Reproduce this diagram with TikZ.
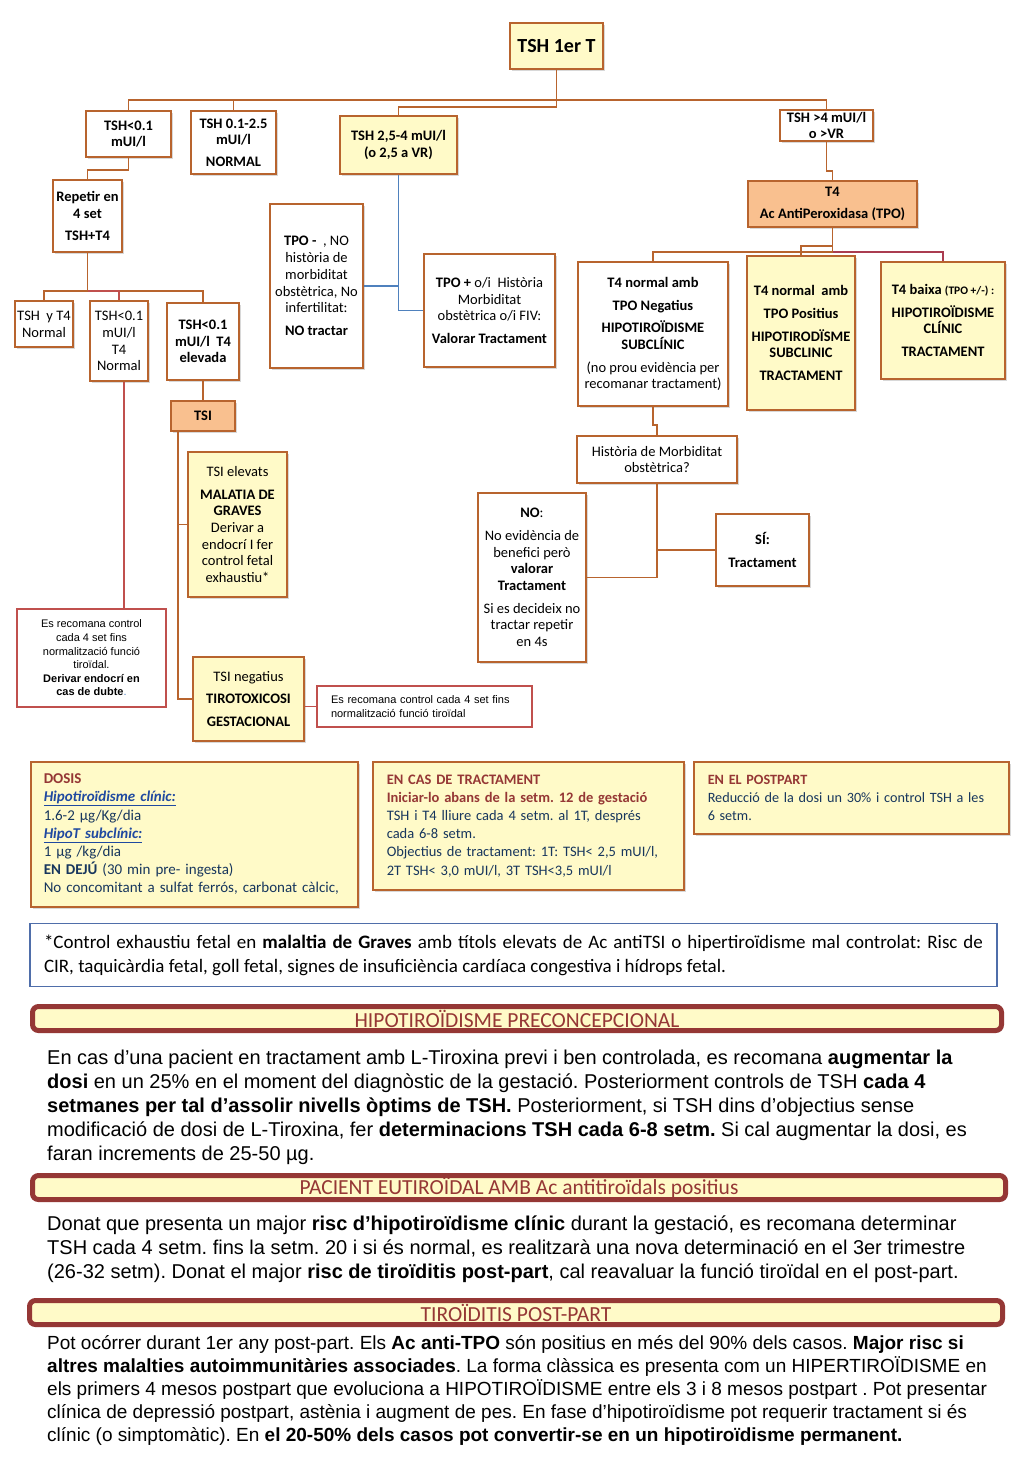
\documentclass[tikz,border=0pt]{standalone}
\usepackage{fontspec}
\setmainfont{Carlito}
\newfontfamily\arialf{Liberation Sans}
\usetikzlibrary{shadows}
\definecolor{bord}{RGB}{184,100,46}
\definecolor{yel}{RGB}{255,250,200}
\definecolor{ora}{RGB}{249,192,143}
\definecolor{redb}{RGB}{192,80,77}
\definecolor{blu}{RGB}{79,129,189}
\definecolor{blub}{RGB}{79,110,170}
\definecolor{dred}{RGB}{149,55,53}
\definecolor{navy}{RGB}{23,54,93}
\definecolor{lnk}{RGB}{31,73,160}
\definecolor{maroon}{RGB}{170,60,80}
\newcommand\bxat[7]{\node[#1,minimum width={#5-#3},minimum height={#6-#4}] (#2) at ({(#3+#5)/2},{(#4+#6)/2}) {#7};}
\newcommand\pfont{\arialf\fontsize{20}{24}\selectfont}
\begin{document}
\frenchspacing
\begin{tikzpicture}[x=1pt,y=-1pt,
  shad/.style={drop shadow={shadow xshift=2pt,shadow yshift=-2pt,opacity=0.3}},
  bx/.style={draw=bord,line width=1.5pt,fill=white,inner sep=1pt,align=center,font=\fontsize{14.5}{16.7}\selectfont,shad},
  bbx/.style={bx,font=\fontsize{14.5}{16.7}\selectfont\bfseries},
  ybx/.style={bx,fill=yel},
  obx/.style={bx,fill=ora},
  rbx/.style={draw=redb,line width=1.2pt,fill=white,inner sep=1pt,align=center,font=\arialf\fontsize{11}{13.6}\selectfont},
  conn/.style={draw=bord,line width=1.6pt},
  rconn/.style={draw=redb,line width=1.4pt},
  mconn/.style={draw=maroon,line width=1.6pt},
  bconn/.style={draw=blu,line width=1.6pt},
  info/.style={draw=bord,line width=1.5pt,fill=yel,anchor=north west,align=left,font=\fontsize{14.5}{18.2}\selectfont,text=navy,inner ysep=6pt,shad},
  hdr/.style={draw=dred,line width=5pt,rounded corners=6pt,fill=yel,text=dred,font=\fontsize{21.5}{22}\selectfont,inner sep=0pt,shad},
  para/.style={anchor=north west,align=left,inner sep=0pt,font=\pfont}
]
\fill[white] (0,0) rectangle (1024,1479);
\useasboundingbox (0,0) rectangle (1024,1479);

% ---------- top flowchart ----------
\bxat{ybx,font=\fontsize{20}{22}\selectfont\bfseries}{t1}{510}{23}{603}{69}{TSH 1er T}
\bxat{bbx}{a1}{86}{111}{171}{157}{TSH<0.1\\mUI/l}
\bxat{bbx}{a2}{191}{111}{276}{174}{TSH 0.1-2.5\\mUI/l\\[5pt]NORMAL}
\bxat{bbx,fill=yel}{a3}{340}{116}{457}{174}{TSH 2,5-4 mUI/l\\(o 2,5 a VR)}
\bxat{bbx,font=\fontsize{14.5}{15.5}\selectfont\bfseries}{a4}{780}{110}{873}{141}{TSH >4 mUI/l\\o >VR}
\bxat{bbx,fill=ora}{t4}{748}{181}{917}{227}{T4\\[6pt]Ac AntiPeroxidasa (TPO)}
\bxat{bbx}{r1}{53}{180}{122}{252}{Repetir en\\4 set\\[6pt]TSH+T4}
\bxat{bx}{c1}{15}{301}{73}{347}{TSH\ \ y T4\\Normal}
\bxat{bx}{c2}{90}{301}{148}{381}{TSH<0.1\\mUI/l\\T4\\Normal}
\bxat{bbx}{c3}{167}{303}{239}{380}{TSH<0.1\\mUI/l\ \ T4\\elevada}
\bxat{bbx,fill=ora}{tsi}{171}{401}{235}{431}{TSI}
\bxat{ybx}{g1}{188}{452}{287}{597}{TSI elevats\\[6pt]\textbf{MALATIA DE}\\\textbf{GRAVES}\\Derivar a\\endocrí I fer\\control fetal\\exhaustiu*}
\bxat{ybx}{g2}{193}{657}{304}{741}{TSI negatius\\[6pt]\textbf{TIROTOXICOSI}\\[6pt]\textbf{GESTACIONAL}}
\bxat{rbx}{e1}{17}{609}{166}{707}{Es recomana control\\cada 4 set fins\\normalització funció\\tiroïdal.\\\textbf{Derivar endocrí en}\\\textbf{cas de dubte}\textcolor{blu}{.}}
\node[rbx,align=left,text width=187pt,inner xsep=14pt,minimum height=41pt] (e2) at (424.5,706.5) {Es recomana control cada 4 set fins\\normalització funció tiroïdal};
\bxat{bx}{p1}{270}{204}{363}{368}{\textbf{TPO -}\ \ , NO\\història de\\morbiditat\\obstètrica, No\\infertilitat:\\[6pt]\textbf{NO tractar}}
\bxat{bx}{p2}{424}{254}{555}{367}{\textbf{TPO +} o/i\ \ Història\\Morbiditat\\obstètrica o/i FIV:\\[6pt]\textbf{Valorar Tractament}}
\bxat{bx}{n1}{578}{262}{728}{406}{\textbf{T4 normal amb}\\[6pt]\textbf{TPO Negatius}\\[6pt]\textbf{HIPOTIROÏDISME}\\\textbf{SUBCLÍNIC}\\[6pt](no prou evidència per\\recomanar tractament)}
\bxat{bbx,fill=yel}{n2}{747}{256}{855}{410}{T4 normal\ \ amb\\[6pt]TPO Positius\\[6pt]HIPOTIRODÏSME\\SUBCLINIC\\[6pt]TRACTAMENT}
\bxat{ybx}{n3}{881}{262}{1005}{379}{\textbf{T4 baixa} {\fontsize{11.5}{13}\selectfont\textbf{(TPO +/-) :}}\\[6pt]\textbf{HIPOTIROÏDISME}\\\textbf{CLÍNIC}\\[6pt]\textbf{TRACTAMENT}}
\bxat{bx}{h}{577}{436}{737}{483}{Història de Morbiditat\\obstètrica?}
\bxat{bx}{no}{478}{493}{586}{662}{\textbf{NO}:\\[6pt]No evidència de\\benefici però\\\textbf{valorar}\\\textbf{Tractament}\\[6pt]Si es decideix no\\tractar repetir\\en 4s}
\bxat{bx}{si}{716}{514}{809}{586}{\textbf{SÍ:}\\[6pt]\textbf{Tractament}}

% bus coordinates
\coordinate (yA) at (0,100);
\coordinate (yB) at (0,107);
\coordinate (yC) at (0,171);
\coordinate (yD) at (0,170);
\coordinate (yE) at (0,291);
\coordinate (yF) at (0,252);
\coordinate (yG) at (0,246);
\coordinate (yH) at (0,425);

% connectors
\draw[conn] (t1.south) -- (t1.south |- yB) -| (a3.north);
\draw[conn] (a1.north) -- (a1.north |- yA) -| (a4.north);
\draw[conn] (a2.north) -- (a2.north |- yA);
\draw[conn] (a4.south) -- (a4.south |- yC) -| (t4.north);
\draw[conn] (a1.south) -- (a1.south |- yD) -| (r1.north);
\draw[conn] (r1.south) -- (r1.south |- yE);
\draw[conn] (c1.north) |- (c3.north |- yE) -- (c3.north);
\draw[rconn] (r1.south |- yE) -| (c2.north);
\draw[conn] (c3.south) -- (tsi.north);
\draw[rconn] ([xshift=5pt]c2.south) -- ([xshift=5pt]c2.south |- e1.north);
\coordinate (tv) at ([xshift=-25pt]tsi.south);
\draw[conn] (tv) |- (g1.west);
\draw[conn] (tv) |- (g2.west);
\draw[rconn] (e2.west) -- (e2.west -| g2.east);
\draw[bconn] (a3.south) |- (p2.west);
\draw[bconn] (p1.east) -- (p1.east -| a3.south);
\draw[conn] (t4.south) -- (t4.south |- yF);
\draw[conn] (n1.north) |- (t4.south |- yF);
\draw[conn] (t4.south |- yG) -| (n2.north);
\draw[mconn] (t4.south |- yF) -| (n3.north);
\draw[conn] (n1.south) -- (n1.south |- yH) -| (h.north);
\draw[conn] (h.south) |- (no.east);
\draw[conn] (h.south |- si.west) -- (si.west);

% ---------- info boxes ----------
\node[info,font=\fontsize{15}{18.2}\selectfont,minimum width=327pt,minimum height=145pt,text width=301pt,inner xsep=13pt] (dosis) at (30,761) {%
\textcolor{dred}{\textbf{DOSIS}}\\
\textcolor{lnk}{\textbf{\textit{\underline{Hipotiroïdisme clínic:}}}}\\
1.6-2 µg/Kg/dia\\
\textcolor{lnk}{\textbf{\textit{\underline{HipoT subclínic:}}}}\\
1 µg /kg/dia\\
\textbf{EN DEJÚ} (30 min pre- ingesta)\\
No concomitant a sulfat ferrós, carbonat càlcic,};
\node[info,minimum width=311pt,minimum height=128pt,text width=283pt,inner xsep=14pt] (tract) at (372,761) {%
\textcolor{dred}{\textbf{EN CAS DE TRACTAMENT}}\\
\textcolor{dred}{\textbf{Iniciar-lo abans de la setm. 12 de gestació}}\\
TSH i T4 lliure cada 4 setm. al 1T, després\\
cada 6-8 setm.\\
Objectius de tractament: 1T: TSH< 2,5 mUI/l,\\
2T TSH< 3,0 mUI/l, 3T TSH<3,5 mUI/l};
\node[info,font=\fontsize{14.2}{18.2}\selectfont,minimum width=315pt,minimum height=72pt,text width=287pt,inner xsep=14pt] (post) at (693,761) {%
\textcolor{dred}{\textbf{EN EL POSTPART}}\\
Reducció de la dosi un 30\% i control TSH a les\\
6 setm.};

% footnote
\node[draw=blub,line width=1.3pt,fill=white,minimum width=967pt,minimum height=63pt,text width=939pt,align=justify,inner xsep=14pt,font=\fontsize{19}{24}\selectfont] (fn) at (513.5,955) {%
*Control exhaustiu fetal en \textbf{malaltia de Graves} amb títols elevats de Ac antiTSI o hipertiroïdisme mal controlat: Risc de\linebreak
CIR, taquicàrdia fetal, goll fetal, signes de insuficiència cardíaca congestiva i hídrops fetal.};

% ---------- headers and paragraphs ----------
\node[hdr,minimum width=969pt,minimum height=24pt] (hd1) at (517,1018.5) {HIPOTIROÏDISME PRECONCEPCIONAL};
\node[para] (pa1) at (47,1050) {%
En cas d’una pacient en tractament amb L-Tiroxina previ i ben controlada, es recomana \textbf{augmentar la}\\
\textbf{dosi} en un 25\% en el moment del diagnòstic de la gestació. Posteriorment controls de TSH \textbf{cada 4}\\
\textbf{setmanes per tal d’assolir nivells òptims de TSH.} Posteriorment, si TSH dins d’objectius sense\\
modificació de dosi de L-Tiroxina, fer \textbf{determinacions TSH cada 6-8 setm.} Si cal augmentar la dosi, es\\
faran increments de 25-50 µg.};

\node[hdr,minimum width=973pt,minimum height=24pt] (hd2) at (519,1187.5) {PACIENT EUTIROÏDAL AMB Ac antitiroïdals positius};
\node[para] (pa2) at (47,1216) {%
Donat que presenta un major \textbf{risc d’hipotiroïdisme clínic} durant la gestació, es recomana determinar\\
TSH cada 4 setm. fins la setm. 20 i si és normal, es realitzarà una nova determinació en el 3er trimestre\\
(26-32 setm). Donat el major \textbf{risc de tiroïditis post-part}, cal reavaluar la funció tiroïdal en el post-part.};

\node[hdr,minimum width=973pt,minimum height=24pt] (hd3) at (516,1312.5) {TIROÏDITIS POST-PART};
\node[para,font=\arialf\fontsize{19}{23}\selectfont] (pa3) at (47,1335) {%
Pot ocórrer durant 1er any post-part. Els \textbf{Ac anti-TPO} són positius en més del 90\% dels casos. \textbf{Major risc si}\\
\textbf{altres malalties autoimmunitàries associades}. La forma clàssica es presenta com un HIPERTIROÏDISME en\\
els primers 4 mesos postpart que evoluciona a HIPOTIROÏDISME entre els 3 i 8 mesos postpart . Pot presentar\\
clínica de depressió postpart, astènia i augment de pes. En fase d’hipotiroïdisme pot requerir tractament si és\\
clínic (o simptomàtic). En \textbf{el 20-50\% dels casos pot convertir-se en un hipotiroïdisme permanent.}};
\end{tikzpicture}
\end{document}
